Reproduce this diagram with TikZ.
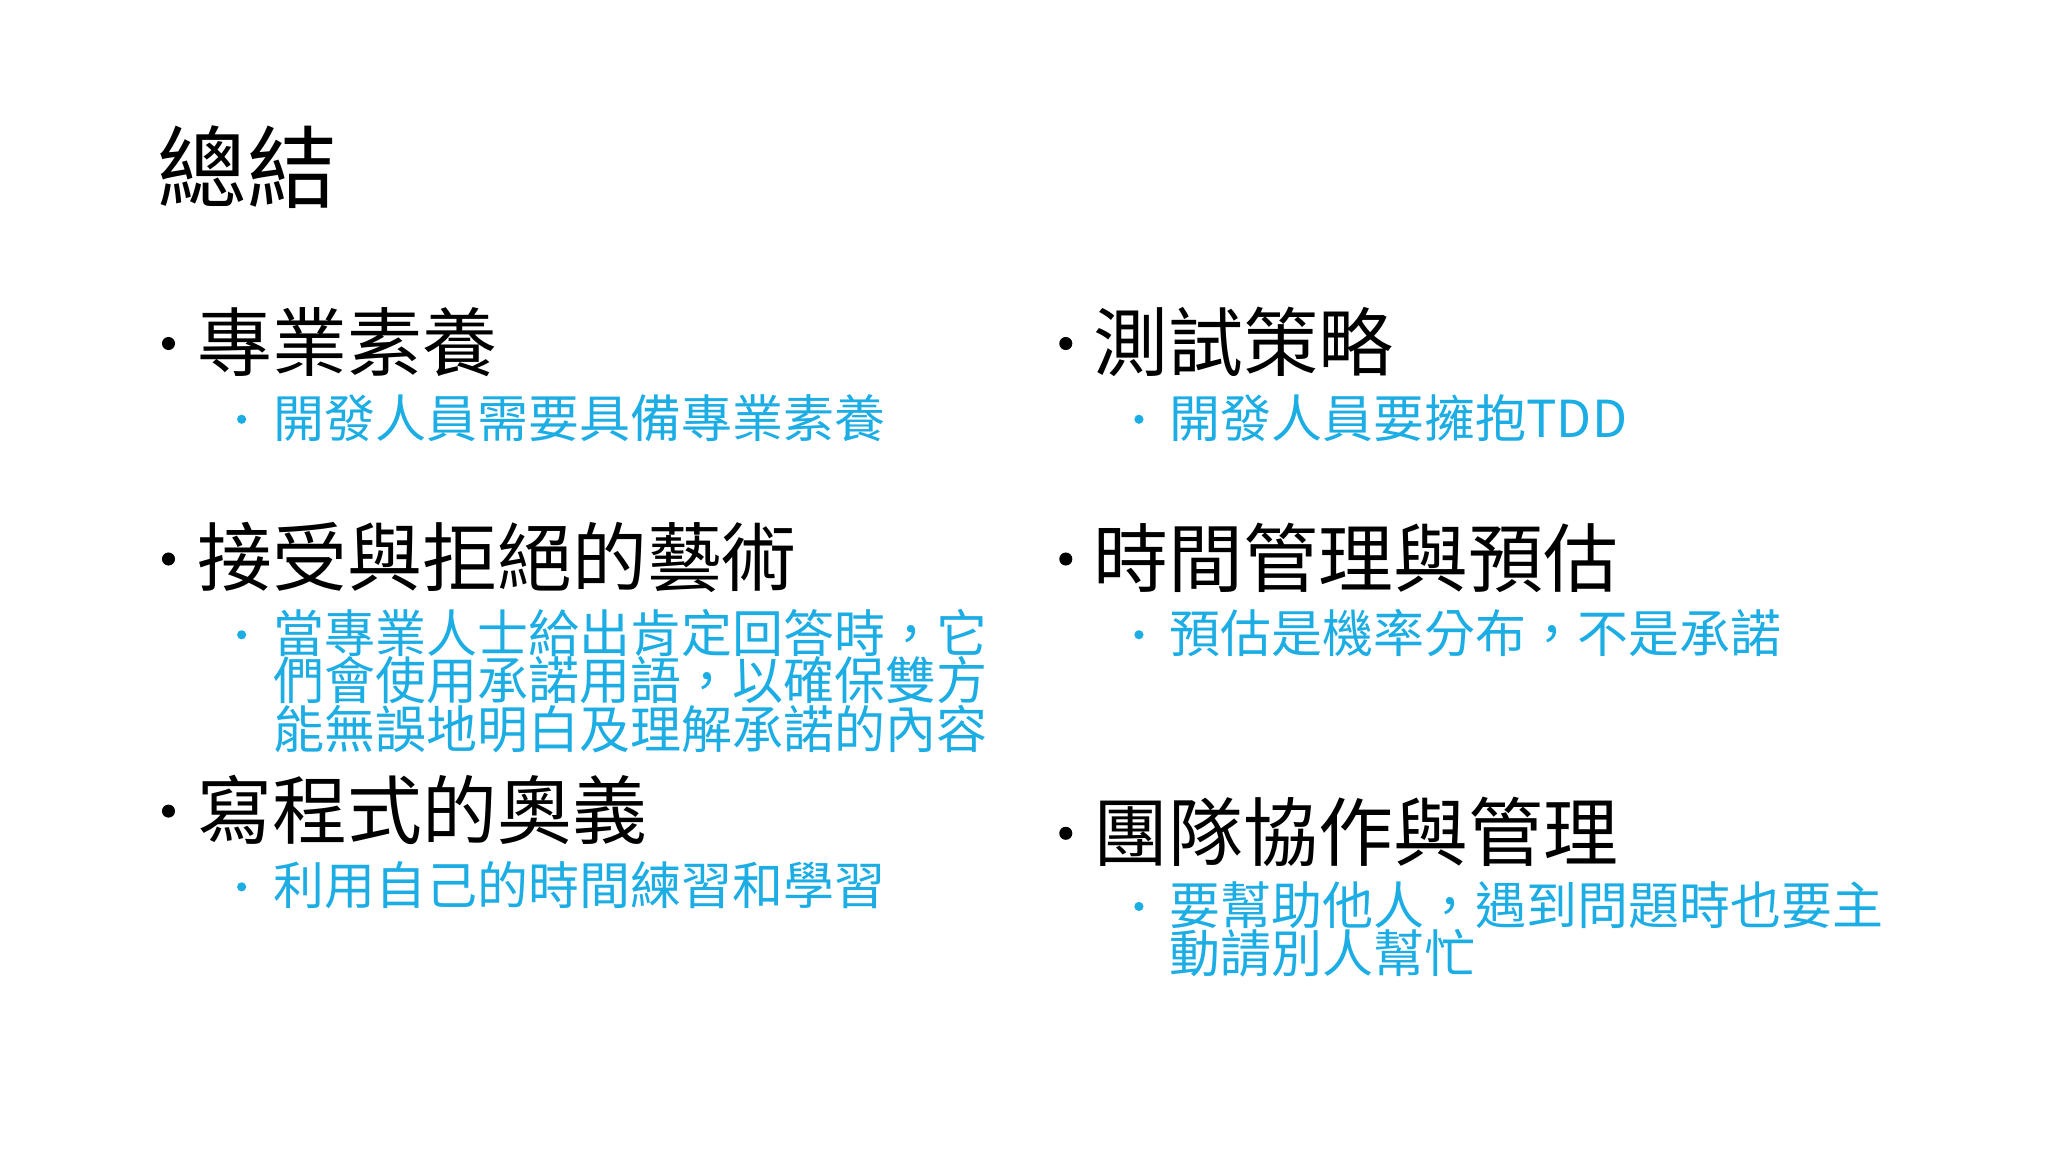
\documentclass[tikz,border=0pt]{standalone}
\usepackage{fontspec}
\setmainfont{Noto Sans CJK TC}
\definecolor{subc}{HTML}{1CADE4}
\tikzset{
 ttl/.style={anchor=west,inner sep=0pt,font=\fontsize{25.5}{30}\selectfont},
 lone/.style={anchor=west,inner sep=0pt,font=\fontsize{21.3}{25}\selectfont},
 ltwo/.style={anchor=west,inner sep=0pt,text=subc,font=\fontsize{14.5}{17}\selectfont},
 bone/.style={fill=black,draw=none},
 btwo/.style={fill=subc,draw=none}
}
\begin{document}
\begin{tikzpicture}[x=0.01306cm,y=-0.01306cm]
\useasboundingbox[fill=white] (0,0) rectangle (1568,882);
\node[ttl] (t) at (120,128) {總結};
% left column
\fill[bone] (129,263) circle (5);
\node[lone] (a1) at (151,262) {專業素養};
\fill[btwo] (185,321) circle (3.5);
\node[ltwo] (a1s) at (209,320) {開發人員需要具備專業素養};
\fill[bone] (129,428) circle (5);
\node[lone] (a2) at (151,427) {接受與拒絕的藝術};
\fill[btwo] (185,486) circle (3.5);
\node[ltwo] (a2s1) at (209,485) {當專業人士給出肯定回答時，它};
\node[ltwo] (a2s2) at (209,521) {們會使用承諾用語，以確保雙方};
\node[ltwo] (a2s3) at (209,558) {能無誤地明白及理解承諾的內容};
\fill[bone] (129,621) circle (5);
\node[lone] (a3) at (151,620) {寫程式的奧義};
\fill[btwo] (185,679) circle (3.5);
\node[ltwo] (a3s) at (209,678) {利用自己的時間練習和學習};
% right column
\fill[bone] (816,263) circle (5);
\node[lone] (b1) at (837,262) {測試策略};
\fill[btwo] (872,321) circle (3.5);
\node[ltwo] (b1s) at (895,320) {開發人員要擁抱TDD};
\fill[bone] (816,428) circle (5);
\node[lone] (b2) at (837,427) {時間管理與預估};
\fill[btwo] (872,486) circle (3.5);
\node[ltwo] (b2s) at (895,485) {預估是機率分布，不是承諾};
\fill[bone] (816,638) circle (5);
\node[lone] (b3) at (837,637) {團隊協作與管理};
\fill[btwo] (872,694) circle (3.5);
\node[ltwo] (b3s1) at (895,693) {要幫助他人，遇到問題時也要主};
\node[ltwo] (b3s2) at (895,730) {動請別人幫忙};
\end{tikzpicture}
\end{document}
